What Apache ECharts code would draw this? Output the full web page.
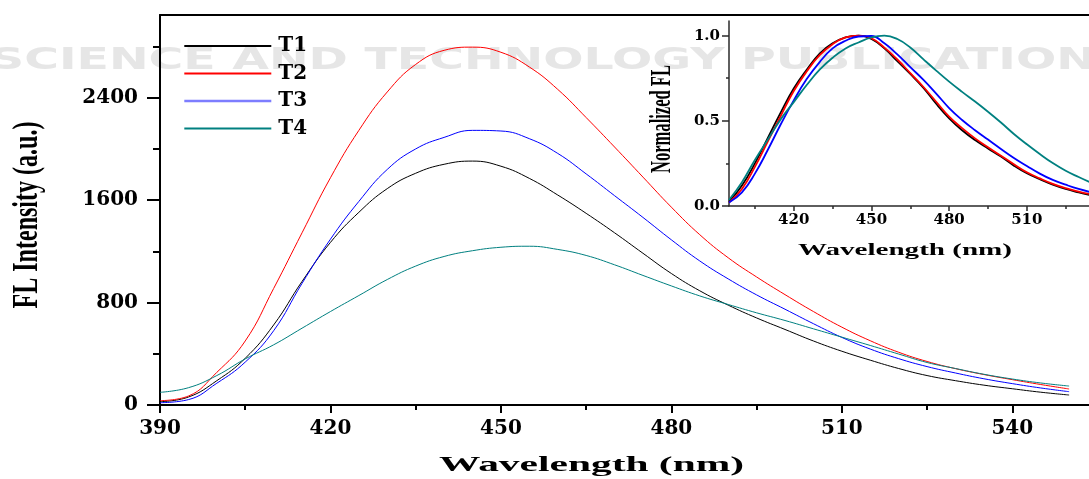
<!DOCTYPE html>
<html>
<head>
<meta charset="utf-8">
<script src="https://cdn.jsdelivr.net/npm/echarts@6/dist/echarts.min.js"></script>
<style>
  html, body { margin: 0; padding: 0; background: #ffffff; }
  #chart { width: 1089px; height: 479px; }
</style>
</head>
<body>
<div id="chart"></div>
<script>
// Emission spectra, 390-550 nm, 5 nm steps (FL intensity, a.u.)
const wavelength = [390,395,400,405,410,415,420,425,430,435,440,445,450,455,460,465,470,475,480,485,490,495,500,505,510,515,520,525,530,535,540,545,550];
const t1 = [26,62,190,365,625,965,1270,1505,1690,1810,1880,1905,1865,1770,1640,1497,1345,1185,1027,892,780,680,590,500,420,350,285,230,190,155,127,100,78];
const t2 = [34,70,255,500,910,1345,1775,2145,2445,2660,2770,2795,2755,2640,2465,2245,2015,1780,1545,1330,1150,1000,862,730,608,502,412,340,284,238,198,160,125];
const t3 = [18,42,170,335,580,950,1295,1590,1840,2000,2090,2145,2140,2080,1965,1805,1635,1465,1290,1125,985,860,748,635,528,437,362,300,250,205,167,133,104];
const t4 = [99,135,230,360,470,600,730,855,980,1085,1160,1205,1232,1240,1215,1168,1095,1012,930,852,785,720,660,595,530,465,398,332,285,240,203,172,148];

// Normalized spectra for the inset, 395-535 nm
const insetWavelength = [395,400,405,410,415,420,425,430,435,440,445,450,455,460,465,470,475,480,485,490,495,500,505,510,515,520,525,530,535];
const t1Norm = [0.025,0.12,0.25,0.40,0.55,0.69,0.80,0.895,0.955,0.99,1.0,0.98,0.925,0.85,0.775,0.695,0.60,0.515,0.445,0.387,0.338,0.29,0.237,0.192,0.157,0.125,0.10,0.08,0.062];
const t2Norm = [0.02,0.10,0.23,0.38,0.53,0.675,0.79,0.885,0.95,0.99,1.0,0.985,0.93,0.86,0.78,0.70,0.612,0.525,0.457,0.397,0.345,0.295,0.245,0.198,0.162,0.13,0.105,0.085,0.068];
const t3Norm = [0.02,0.08,0.19,0.33,0.48,0.62,0.745,0.845,0.925,0.97,0.995,0.998,0.955,0.89,0.815,0.742,0.66,0.575,0.505,0.445,0.39,0.335,0.282,0.235,0.19,0.153,0.125,0.10,0.08];
const t4Norm = [0.035,0.14,0.27,0.39,0.51,0.61,0.71,0.80,0.87,0.925,0.96,0.99,1.0,0.98,0.93,0.862,0.795,0.73,0.67,0.613,0.553,0.49,0.423,0.362,0.305,0.252,0.207,0.17,0.135];

const seriesNames = ['T1', 'T2', 'T3', 'T4'];
const seriesColors = ['#000000', '#ff0000', '#0000ff', '#008080'];

// Tick positions
const mainMajorX = [390, 420, 450, 480, 510, 540];
const mainMinorX = [405, 435, 465, 495, 525];
const mainMajorY = [0, 800, 1600, 2400];
const mainMinorY = [400, 1200, 2000, 2800];
const insetMajorX = [420, 450, 480, 510];
const insetMinorX = [405, 435, 465, 495, 525];
const insetMajorY = [0, 0.5, 1.0];
const insetMinorY = [0.25, 0.75];

const mainRangeX = [390, 553.5];
const mainRangeY = [0, 3046];
const insetRangeX = [395, 534];
const insetRangeY = [0, 1.086];

const tickFont = { fontFamily: 'DejaVu Serif', fontWeight: 'bold', color: '#000' };

// Stretch factor so a text run spans a given width
const measureCtx = document.createElement('canvas').getContext('2d');
function stretchTo(text, font, target) {
  measureCtx.font = font;
  return target / measureCtx.measureText(text).width;
}

function pairs(xs, ys) { return xs.map((x, i) => [x, ys[i]]); }

const mainValues = [t1, t2, t3, t4];
const insetValues = [t1Norm, t2Norm, t3Norm, t4Norm];

const series = [];
seriesNames.forEach((name, i) => {
  series.push({
    name: name, type: 'line', xAxisIndex: 0, yAxisIndex: 0,
    data: pairs(wavelength, mainValues[i]),
    symbol: 'none', smooth: 0.45,
    lineStyle: { color: seriesColors[i], width: 1 },
    itemStyle: { color: seriesColors[i] },
    z: 3
  });
});
seriesNames.forEach((name, i) => {
  series.push({
    name: name, type: 'line', xAxisIndex: 3, yAxisIndex: 2,
    data: pairs(insetWavelength, insetValues[i]),
    symbol: 'none', smooth: 0.45,
    lineStyle: { color: seriesColors[i], width: 1.8 },
    itemStyle: { color: seriesColors[i] },
    z: 3
  });
});

function valueAxis(grid, range, pos, extra) {
  return Object.assign({
    gridIndex: grid, type: 'value', min: range[0], max: range[1], position: pos,
    splitLine: { show: false }, axisLabel: { show: false }, axisTick: { show: false },
    axisLine: { show: false, onZero: false }
  }, extra);
}

const mainLine = { show: true, onZero: false, lineStyle: { color: '#000', width: 2 } };
const insetLine = { show: true, onZero: false, lineStyle: { color: '#2a2a2a', width: 1.5 } };

const watermarkText = 'SCIENCE AND TECHNOLOGY PUBLICATIONS';
const watermarkFont = 'bold 30px "DejaVu Sans"';
const yTitleFont = 'bold 36px "Liberation Serif"';
const insetYTitleFont = 'bold 30px "Liberation Serif"';
const xTitleFont = 'bold 22px "Liberation Serif"';
const insetXTitleFont = 'bold 17px "Liberation Serif"';

// Legend keys are plain line segments; the T3 key is drawn a little heavier
const legendKeys = seriesNames.map((name, i) => (
  i === 2 ? { name: name, lineStyle: { color: '#7d7dff', width: 2.6 } } : { name: name }
));

const option = {
  animation: false,
  backgroundColor: '#ffffff',
  grid: [
    { left: 160, top: 15, right: 0, bottom: 74, outerBoundsMode: 'none' },
    { left: 729, top: 21, right: 0, bottom: 273, outerBoundsMode: 'none' }
  ],
  legend: {
    data: legendKeys,
    orient: 'vertical', left: 178, top: 30,
    itemWidth: 87, itemHeight: 14, itemGap: 5.5,
    itemStyle: { opacity: 0 },
    textStyle: { fontFamily: 'DejaVu Serif', fontWeight: 'bold', fontSize: 20, color: '#000', lineHeight: 22, padding: [0, 0, 0, 2] }
  },
  xAxis: [
    valueAxis(0, mainRangeX, 'bottom', {
      axisLine: mainLine,
      axisTick: { show: true, customValues: mainMajorX, length: 8, lineStyle: { color: '#000', width: 2 } },
      axisLabel: Object.assign({ show: true, customValues: mainMajorX, margin: 14, fontSize: 20,
        formatter: v => String(v) }, tickFont)
    }),
    valueAxis(0, mainRangeX, 'bottom', {
      axisTick: { show: true, customValues: mainMinorX, length: 5, lineStyle: { color: '#000', width: 2 } }
    }),
    valueAxis(0, mainRangeX, 'top', { axisLine: mainLine }),
    valueAxis(1, insetRangeX, 'bottom', {
      axisLine: insetLine,
      axisTick: { show: true, customValues: insetMajorX, length: 5, lineStyle: { color: '#2a2a2a', width: 1.5 } },
      axisLabel: Object.assign({ show: true, customValues: insetMajorX, margin: 7, fontSize: 15,
        formatter: v => String(v) }, tickFont)
    }),
    valueAxis(1, insetRangeX, 'bottom', {
      axisTick: { show: true, customValues: insetMinorX, length: 3, lineStyle: { color: '#2a2a2a', width: 1.5 } }
    })
  ],
  yAxis: [
    valueAxis(0, mainRangeY, 'left', {
      axisLine: mainLine,
      axisTick: { show: true, customValues: mainMajorY, length: 13, lineStyle: { color: '#000', width: 2 } },
      axisLabel: Object.assign({ show: true, customValues: mainMajorY, margin: 22, fontSize: 20,
        formatter: v => String(v) }, tickFont)
    }),
    valueAxis(0, mainRangeY, 'left', {
      axisTick: { show: true, customValues: mainMinorY, length: 7, lineStyle: { color: '#000', width: 2 } }
    }),
    valueAxis(1, insetRangeY, 'left', {
      axisLine: insetLine,
      axisTick: { show: true, customValues: insetMajorY, length: 7, lineStyle: { color: '#2a2a2a', width: 1.5 } },
      axisLabel: Object.assign({ show: true, customValues: insetMajorY, margin: 9, fontSize: 15,
        formatter: v => Number(v).toFixed(1) }, tickFont)
    }),
    valueAxis(1, insetRangeY, 'left', {
      axisTick: { show: true, customValues: insetMinorY, length: 3, lineStyle: { color: '#2a2a2a', width: 1.5 } }
    })
  ],
  graphic: [
    { type: 'text', z: -10, x: -10, y: 61, scaleX: stretchTo(watermarkText, watermarkFont, 1140),
      style: { text: watermarkText, font: watermarkFont, fill: '#e6e6e6', align: 'left', verticalAlign: 'middle' } },
    { type: 'text', x: 28, y: 215, rotation: Math.PI / 2,
      scaleX: stretchTo('FL Intensity (a.u.)', yTitleFont, 187),
      style: { text: 'FL Intensity (a.u.)', font: yTitleFont, fill: '#000', align: 'center', verticalAlign: 'middle' } },
    { type: 'text', x: 591.5, y: 465,
      scaleX: stretchTo('Wavelength (nm)', xTitleFont, 305),
      style: { text: 'Wavelength (nm)', font: xTitleFont, fill: '#000', align: 'center', verticalAlign: 'middle' } },
    { type: 'text', x: 662.5, y: 119, rotation: Math.PI / 2,
      scaleX: stretchTo('Normalized FL', insetYTitleFont, 108),
      style: { text: 'Normalized FL', font: insetYTitleFont, fill: '#000', align: 'center', verticalAlign: 'middle' } },
    { type: 'text', x: 905, y: 251,
      scaleX: stretchTo('Wavelength (nm)', insetXTitleFont, 214),
      style: { text: 'Wavelength (nm)', font: insetXTitleFont, fill: '#000', align: 'center', verticalAlign: 'middle' } }
  ],
  series: series
};

const chart = echarts.init(document.getElementById('chart'), null, { renderer: 'canvas' });
chart.setOption(option);
</script>
</body>
</html>
